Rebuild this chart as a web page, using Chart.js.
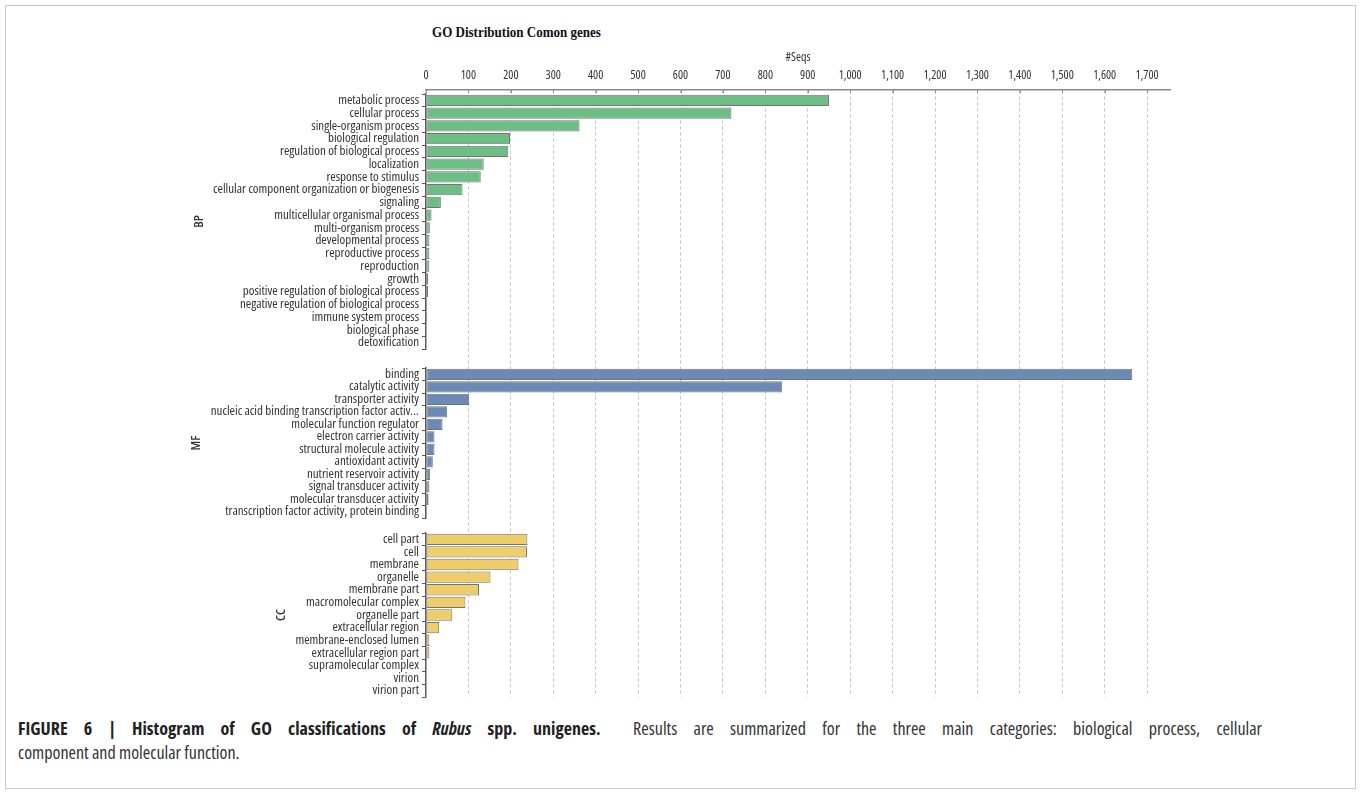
<!DOCTYPE html>
<html>
<head>
<meta charset="utf-8">
<title>GO Distribution Comon genes</title>
<script src="https://cdn.jsdelivr.net/npm/chart.js@4.4.1/dist/chart.umd.min.js"></script>
<style>
  html, body { margin: 0; padding: 0; background: #fff; }
  #frame { position: absolute; left: 5px; top: 5px; width: 1349px; height: 782px; border: 1px solid #c9c9c9; }
  #wrap { position: absolute; left: 0; top: 0; width: 1360px; height: 712px; }
  #title { position: absolute; left: 432px; top: 23px; font: bold 15.5px 'Liberation Serif', 'Times New Roman', serif; color: #111; transform: scaleX(0.84); transform-origin: left top; white-space: nowrap; }
  #caption { position: absolute; left: 18px; top: 716px; font-family: 'Open Sans', sans-serif; font-stretch: condensed; font-size: 18px; line-height: 24px; color: #333; }
  #caption .l1 { width: 1244px; text-align: justify; text-align-last: justify; white-space: nowrap; }
  #caption b { color: #222; font-weight: 700; }
</style>
</head>
<body>
<div id="frame"></div>
<div id="title">GO Distribution Comon genes</div>
<div id="wrap"><canvas id="chart"></canvas></div>
<div id="caption"><div class="l1"><b>FIGURE 6 | Histogram of GO classifications of <i>Rubus</i> spp. unigenes.</b>&nbsp; Results are summarized for the three main categories: biological process, cellular</div><div>component and molecular function.</div></div>
<script>
// Biological process (BP)
const bpLabels = [
  'metabolic process', 'cellular process', 'single-organism process', 'biological regulation',
  'regulation of biological process', 'localization', 'response to stimulus',
  'cellular component organization or biogenesis', 'signaling', 'multicellular organismal process',
  'multi-organism process', 'developmental process', 'reproductive process', 'reproduction',
  'growth', 'positive regulation of biological process', 'negative regulation of biological process',
  'immune system process', 'biological phase', 'detoxification'
];
const bpCounts = [950, 720, 362, 198, 194, 136, 129, 86, 35, 13, 9, 8, 8, 8, 5, 5, 3, 3, 1, 1];

// Molecular function (MF)
const mfLabels = [
  'binding', 'catalytic activity', 'transporter activity',
  'nucleic acid binding transcription factor activ...', 'molecular function regulator',
  'electron carrier activity', 'structural molecule activity', 'antioxidant activity',
  'nutrient reservoir activity', 'signal transducer activity', 'molecular transducer activity',
  'transcription factor activity, protein binding'
];
const mfCounts = [1665, 840, 102, 50, 39, 20, 20, 16, 10, 8, 6, 2];

// Cellular component (CC)
const ccLabels = [
  'cell part', 'cell', 'membrane', 'organelle', 'membrane part', 'macromolecular complex',
  'organelle part', 'extracellular region', 'membrane-enclosed lumen', 'extracellular region part',
  'supramolecular complex', 'virion', 'virion part'
];
const ccCounts = [239, 238, 218, 152, 125, 93, 62, 31, 8, 8, 2, 1, 1];

const groupNames = ['BP', 'MF', 'CC'];
const seqTicks = [0, 100, 200, 300, 400, 500, 600, 700, 800, 900, 1000, 1100, 1200, 1300, 1400, 1500, 1600, 1700];

// Condensed Open Sans; the stretch keyword rides in the weight slot of the font string
const FAMILY = "'Open Sans', 'DejaVu Sans Condensed', sans-serif";
const labelFont = { family: FAMILY, size: 13, weight: 'condensed' };
const tickFont = { family: FAMILY, size: 12, weight: 'condensed' };
const AXIS_W = 426;

// One category axis per GO group, stacked on the left side
function groupAxis(labels, weight, order) {
  return {
    type: 'category',
    labels: labels,
    position: 'left',
    stack: 'go',
    stackWeight: weight,
    weight: order,
    offset: true,
    grid: { display: true, drawOnChartArea: false, drawTicks: true, tickLength: 4, tickColor: '#555', tickWidth: 1 },
    border: { display: true, color: '#5c5c5c', width: 1.5 },
    ticks: { font: labelFont, color: '#333', padding: 3, autoSkip: false },
    afterFit: s => { s.width = AXIS_W; }
  };
}
// Empty strip that separates the groups
function spacer(weight, order) {
  return { type: 'category', labels: [''], position: 'left', stack: 'go', stackWeight: weight, weight: order, display: false };
}

// Rotated group name beside each axis' tick labels
const groupTitles = {
  id: 'groupTitles',
  afterDraw(chart) {
    const ctx = chart.ctx;
    [['yBP', groupNames[0]], ['yMF', groupNames[1]], ['yCC', groupNames[2]]].forEach(([id, name]) => {
      const s = chart.scales[id];
      ctx.save();
      ctx.font = `condensed 13px ${FAMILY}`;
      const widest = Math.max(...s.getLabels().map(l => ctx.measureText(l).width));
      const x = s.right - 4 - 3 - widest - 14;
      const y = (s.top + s.bottom) / 2;
      ctx.translate(x, y);
      ctx.rotate(-Math.PI / 2);
      ctx.font = `600 condensed 13px ${FAMILY}`;
      ctx.fillStyle = '#333';
      ctx.textAlign = 'center';
      ctx.textBaseline = 'middle';
      ctx.fillText(name, 0, 0);
      ctx.restore();
    });
  }
};

// Short tick marks hanging below the #Seqs axis line
const seqTickMarks = {
  id: 'seqTickMarks',
  afterDraw(chart) {
    const s = chart.scales.x;
    const ctx = chart.ctx;
    ctx.save();
    ctx.strokeStyle = '#8a8a8a';
    ctx.lineWidth = 1;
    ctx.beginPath();
    s.ticks.forEach(t => {
      const px = Math.round(s.getPixelForValue(t.value)) + 0.5;
      ctx.moveTo(px, s.bottom);
      ctx.lineTo(px, s.bottom + 3);
    });
    ctx.stroke();
    ctx.restore();
  }
};

const barStyle = { borderColor: 'rgba(70,70,70,0.75)', borderWidth: 1, borderSkipped: false, grouped: false, categoryPercentage: 1, barPercentage: 0.9 };

new Chart(document.getElementById('chart'), {
  type: 'bar',
  data: {
    datasets: [
      Object.assign({ label: groupNames[0], data: bpCounts, yAxisID: 'yBP', backgroundColor: '#6cbe85' }, barStyle),
      Object.assign({ label: groupNames[1], data: mfCounts, yAxisID: 'yMF', backgroundColor: '#6b8ab5' }, barStyle),
      Object.assign({ label: groupNames[2], data: ccCounts, yAxisID: 'yCC', backgroundColor: '#f0cd6b' }, barStyle)
    ]
  },
  options: {
    indexAxis: 'y',
    responsive: true,
    maintainAspectRatio: false,
    animation: false,
    layout: { padding: { top: 46, left: 0, right: 190, bottom: 15 } },
    plugins: { legend: { display: false }, tooltip: { enabled: false }, title: { display: false } },
    scales: {
      x: {
        type: 'linear',
        position: 'top',
        min: 0,
        max: 1754,
        afterBuildTicks: s => { s.ticks = seqTicks.map(v => ({ value: v })); },
        afterFit: s => { s.height = 44; },
        ticks: { font: tickFont, color: '#333', padding: 7, callback: v => v.toLocaleString('en-US') },
        grid: {
          drawTicks: false,
          lineWidth: 1,
          color: c => (c.tick && c.tick.value === 0) ? 'rgba(0,0,0,0)' : '#c4c4c4'
        },
        border: { display: true, color: '#8a8a8a', width: 1.5, dash: [3, 3] },
        title: { display: true, text: '#Seqs', font: tickFont, color: '#333', padding: { top: 4, bottom: 2 } }
      },
      gapTop: spacer(4, 6),
      yBP: groupAxis(bpLabels, 255, 5),
      gap1: spacer(19, 4),
      yMF: groupAxis(mfLabels, 150, 3),
      gap2: spacer(15, 2),
      yCC: groupAxis(ccLabels, 164, 1)
    }
  },
  plugins: [groupTitles, seqTickMarks]
});
</script>
</body>
</html>
